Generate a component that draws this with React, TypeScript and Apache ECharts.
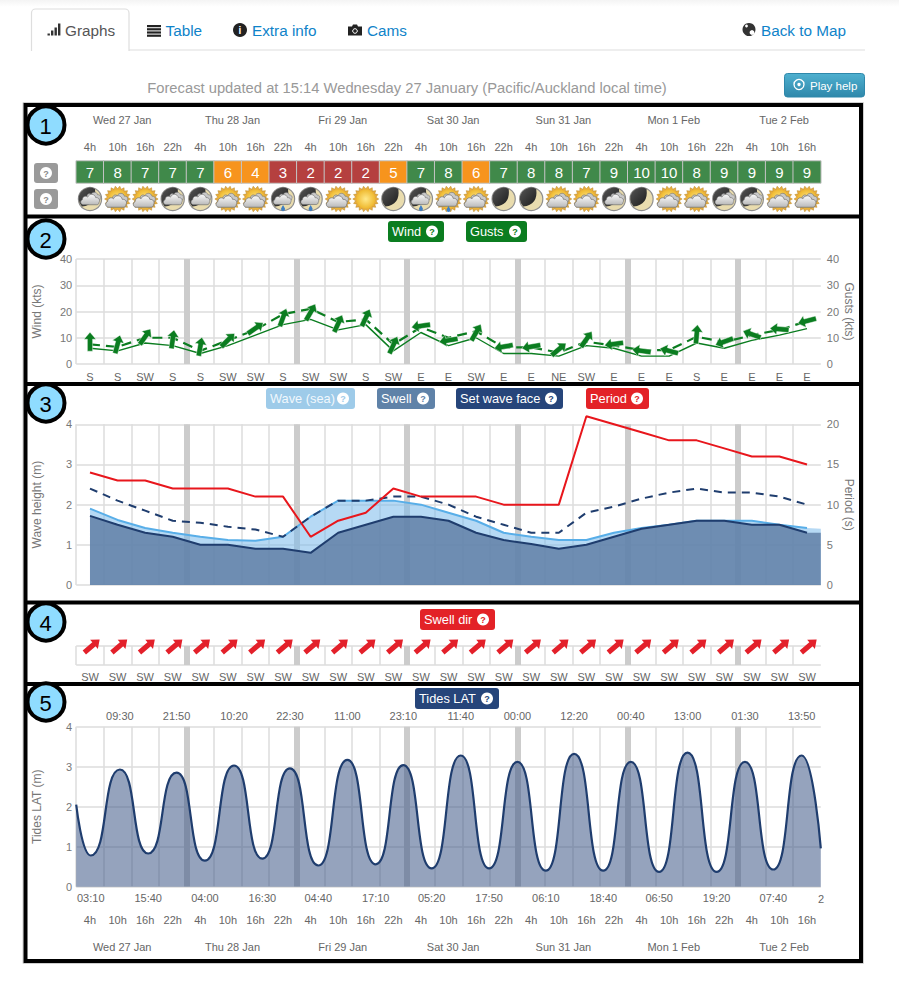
import React, { useEffect, useRef } from "react";
import * as echarts from "echarts";

const FONT = "'Liberation Sans', Arial, sans-serif";

const hourLabels = ["4h","10h","16h","22h","4h","10h","16h","22h","4h","10h","16h","22h","4h","10h","16h","22h","4h","10h","16h","22h","4h","10h","16h","22h","4h","10h","16h"];
const dayLabels = ["Wed 27 Jan","Thu 28 Jan","Fri 29 Jan","Sat 30 Jan","Sun 31 Jan","Mon 1 Feb","Tue 2 Feb"];
const dayLabelHours = [10,34,58,82,106,130,154];
const scores = [7,8,7,7,7,6,4,3,2,2,2,5,7,8,6,7,8,8,7,9,10,10,8,9,9,9,9];
const icons = ["mc","sc","sc","mc","mc","sc","sc","mr","mr","sc","sun","moon","mr","sr","sc","moon","moon","sc","sc","mc","moon","sc","sc","mc","mc","sc","sc"];
const windDirs = ["S","S","SW","S","S","SW","SW","S","SW","SW","S","SW","E","E","SW","E","E","NE","SW","E","E","E","S","E","E","E","E"];
const wind = [6,5,8,7,4,7,11,15,17,13,15,5,12,7,10,4,4,3,7,6,3,3,8,6,9,11,13.5];
const gusts = [7.5,6.5,10,10,5,9,13,19,21,16,17,7.5,14,10,12.5,6.3,6.3,4.4,8.5,7,5.3,5.3,10.4,8.3,11,13,16.3];
const arrowLevels = [8.5,7.5,10.4,9.4,6.6,9.1,13.6,17.7,19.7,15.4,17.6,7.2,14.5,9,12,6.6,6.6,5.6,9.4,7.6,5,5,11.3,8.5,11.3,13.3,16.4];
const windRot = [0,-15,-35,-8,-10,-45,-55,-20,-30,-25,-25,-25,98,100,-30,100,100,-50,-35,98,82,75,-5,110,70,85,105];
const waveSea = [1.9,1.62,1.42,1.3,1.2,1.12,1.1,1.2,1.7,2.1,2.1,2.1,2.0,1.8,1.6,1.3,1.2,1.12,1.12,1.3,1.42,1.5,1.6,1.6,1.6,1.5,1.42];
const waveSeaTail = 1.4;
const swell = [1.72,1.5,1.3,1.2,1.0,1.0,0.9,0.9,0.8,1.3,1.5,1.7,1.7,1.6,1.3,1.12,1.02,0.9,1.0,1.2,1.4,1.5,1.6,1.6,1.5,1.5,1.3];
const swellTail = 1.3;
const setWaveFace = [2.4,2.1,1.85,1.6,1.55,1.45,1.38,1.2,1.7,2.1,2.1,2.2,2.2,2.0,1.7,1.5,1.3,1.3,1.8,1.95,2.15,2.3,2.4,2.3,2.3,2.2,2.0];
const period = [14,13,13,12,12,12,11,11,6,8,9,12,11,11,11,10,10,10,21,20,19,18,18,17,16,16,15];
const swellDirs = ["SW","SW","SW","SW","SW","SW","SW","SW","SW","SW","SW","SW","SW","SW","SW","SW","SW","SW","SW","SW","SW","SW","SW","SW","SW","SW","SW"];
const swellRot = [-50,-50,-50,-50,-50,-50,-50,-50,-50,-50,-50,-50,-50,-50,-50,-50,-50,-50,-50,-50,-50,-50,-50,-50,-50,-50,-50];
const highTimes = ["09:30","21:50","10:20","22:30","11:00","23:10","11:40","00:00","12:20","00:40","13:00","01:30","13:50"];
const highDays = [0,0,1,1,2,2,3,4,4,5,5,6,6];
const highLevels = [2.93,2.85,3.03,2.96,3.17,3.04,3.28,3.12,3.32,3.12,3.35,3.12,3.28];
const lowTimes = ["03:10","15:40","04:00","16:30","04:40","17:10","05:20","17:50","06:10","18:40","06:50","19:20","07:40"];
const lowDays = [0,0,1,1,2,2,3,3,4,4,5,5,6];
const lowLevels = [0.78,0.83,0.65,0.7,0.53,0.56,0.46,0.46,0.4,0.4,0.37,0.37,0.43];
const tideStart = 2.05;
const tideEnd = 0.96;

const LEFT = 76.2;
const WIDTH = 744.6;
const HOURS = 162;
const GREEN = "#0b7d20";
const GRAY = "#dcdcdc";
const TXT = "#666";
const BLUE = "#0f83c9";

const clock = (t: string, d: number) => {
  const [h, m] = t.split(":").map(Number);
  return d * 24 + h + m / 60;
};
const highHours = highTimes.map((t, i) => clock(t, highDays[i]));
const lowHours = lowTimes.map((t, i) => clock(t, lowDays[i]));
const labelAt = (hours: number[], labels: string[]) => (v: number) => {
  const i = hours.findIndex((h) => Math.abs(h - v) < 0.01);
  return i >= 0 ? labels[i] : "";
};

const ARROW = "path://M0,-10 L6,-2.6 L2.6,-2.6 L2.6,10 L-2.6,10 L-2.6,-2.6 L-6,-2.6 Z";

echarts.graphic.registerShape("wxCloud", echarts.graphic.extendPath("M-8,5 C-11,5 -12,1 -9,-0.5 C-9,-4 -5,-5 -3.5,-3 C-2,-7 4,-7 5,-2.5 C8,-3 10,0 8.5,2.5 C8.5,4 7.5,5 6,5 Z", {}));
echarts.graphic.registerShape("wxMoonDark", echarts.graphic.extendPath("M5,-10 A11,11 0 0 0 -8,7.5 Q7,6 5,-10 Z", {}));
echarts.graphic.registerShape("wxDrop", echarts.graphic.extendPath("M0,-3 C1,-1 2,0 2,1 A2,2 0 0 1 -2,1 C-2,0 -1,-1 0,-3 Z", {}));
echarts.graphic.registerShape("navCam", echarts.graphic.extendPath("M0,2 L4,2 L5,0 L9,0 L10,2 L14,2 L14,11 L0,11 Z", {}));

const cloudFill = () => new echarts.graphic.LinearGradient(0, 0, 0, 1, [
  { offset: 0, color: "#fafafa" }, { offset: 1, color: "#b9b9b9" },
]);

function sunParts() {
  const pts: number[][] = [];
  for (let i = 0; i < 36; i++) {
    const r = i % 2 ? 10.3 : 13;
    const a = (i / 36) * Math.PI * 2;
    pts.push([Math.cos(a) * r, Math.sin(a) * r]);
  }
  return [
    { type: "polygon", shape: { points: pts }, style: { fill: "#e7ad3e", stroke: "#b88627", lineWidth: 0.5 } },
    { type: "circle", shape: { cx: 0, cy: 0, r: 9.5 }, style: {
      fill: new echarts.graphic.RadialGradient(0.5, 0.5, 0.5, [{ offset: 0, color: "#ffe98a" }, { offset: 1, color: "#efb92f" }]),
    } },
  ];
}
function moonParts() {
  return [
    { type: "circle", shape: { cx: 0, cy: 0, r: 11.6 }, style: { fill: "#e9dcae", stroke: "#8e8e8e", lineWidth: 1.2 } },
    { type: "wxMoonDark", style: { fill: new echarts.graphic.LinearGradient(0, 0, 1, 1, [{ offset: 0, color: "#555" }, { offset: 1, color: "#1d1d1d" }]) } },
  ];
}
function cloudParts(dx: number, dy: number, s: number) {
  return [
    { type: "wxCloud", x: dx + 3 * s, y: dy - 3.5 * s, scaleX: s * 0.8, scaleY: s * 0.8, style: { fill: "#c9c9c9", stroke: "#6e6e6e", lineWidth: 0.7 } },
    { type: "wxCloud", x: dx, y: dy, scaleX: s, scaleY: s, style: { fill: cloudFill(), stroke: "#6e6e6e", lineWidth: 0.7 } },
  ];
}
function dropParts(dx: number, dy: number) {
  return [{ type: "wxDrop", x: dx, y: dy, style: { fill: "#3f7fc4" } }];
}
function iconChildren(kind: string): any[] {
  if (kind === "sun") return sunParts();
  if (kind === "moon") return moonParts();
  if (kind === "sc") return [...sunParts(), ...cloudParts(-0.5, 3, 1.05)];
  if (kind === "sr") return [...sunParts(), ...cloudParts(-0.5, 2, 1.05), ...dropParts(0, 10)];
  if (kind === "mc") return [...moonParts(), ...cloudParts(1, 1, 0.95)];
  return [...moonParts(), ...cloudParts(0, 1, 0.9), ...dropParts(0, 9)];
}

function badge(x0: number, x1: number, y0: number, y1: number, label: string, fill: string, textFill = "#fff"): any[] {
  const cy = (y0 + y1) / 2;
  return [
    { type: "rect", z: 20, shape: { x: x0, y: y0, width: x1 - x0, height: y1 - y0, r: 3 }, style: { fill } },
    { type: "text", z: 21, x: x0 + 4, y: cy, style: { text: label, fill: textFill, font: `12.8px ${FONT}`, verticalAlign: "middle" } },
    { type: "circle", z: 21, shape: { cx: x1 - 12, cy, r: 6 }, style: { fill: "#fff" } },
    { type: "text", z: 22, x: x1 - 12, y: cy + 0.5, style: { text: "?", fill, font: `bold 9px ${FONT}`, align: "center", verticalAlign: "middle" } },
  ];
}
function helpButton(y0: number): any[] {
  const cy = y0 + 10;
  return [
    { type: "rect", z: 20, shape: { x: 34, y: y0, width: 24, height: 20, r: 3 }, style: { fill: "#9a9a9a" } },
    { type: "circle", z: 21, shape: { cx: 46, cy, r: 6 }, style: { fill: "#fff" } },
    { type: "text", z: 22, x: 46, y: cy + 0.5, style: { text: "?", fill: "#8a8a8a", font: `bold 9px ${FONT}`, align: "center", verticalAlign: "middle" } },
  ];
}
function numberBadge(cy: number, n: string): any[] {
  return [
    { type: "circle", z: 30, shape: { cx: 46, cy, r: 18.5 }, style: { fill: "#8fdcff", stroke: "#000", lineWidth: 4 } },
    { type: "text", z: 31, x: 45.5, y: cy + 1, style: { text: n, fill: "#000", font: `22px ${FONT}`, align: "center", verticalAlign: "middle" } },
  ];
}
function navText(x: number, text: string, fill = BLUE): any {
  return { type: "text", z: 5, x, y: 30.5, style: { text, fill, font: `15.3px ${FONT}`, verticalAlign: "middle" } };
}
const numberBadgeList: (number | string)[][] = [[125, "1"], [239, "2"], [403, "3"], [622, "4"], [702, "5"]];

function pageGraphics(): any[] {
  const out: any[] = [];
  out.push({ type: "rect", z: 1, shape: { x: 0, y: 0, width: 899, height: 7 }, style: {
    fill: new echarts.graphic.LinearGradient(0, 0, 0, 1, [{ offset: 0, color: "#f4f4f4" }, { offset: 1, color: "#ffffff" }]),
  } });
  // tab bar
  out.push({ type: "line", z: 2, shape: { x1: 31, y1: 50, x2: 865, y2: 50 }, style: { stroke: "#dedede", lineWidth: 1.2 } });
  out.push({ type: "rect", z: 3, shape: { x: 31.5, y: 9, width: 97.5, height: 44, r: [4, 4, 0, 0] }, style: { fill: "#fff", stroke: "#dedede", lineWidth: 1.2 } });
  out.push({ type: "rect", z: 4, shape: { x: 30, y: 51, width: 100, height: 4 }, style: { fill: "#fff" } });
  [[47.5, 2], [51, 5], [54.5, 8], [58, 12]].forEach(([x, h]) => {
    out.push({ type: "rect", z: 5, shape: { x, y: 35.5 - h, width: 2.4, height: h }, style: { fill: "#333" } });
  });
  out.push(navText(65, "Graphs", "#555"));
  [0, 1, 2, 3].forEach((i) => {
    out.push({ type: "rect", z: 5, shape: { x: 147, y: 25 + i * 3.2, width: 14, height: 2.2 }, style: { fill: "#222" } });
  });
  out.push(navText(165.5, "Table"));
  out.push({ type: "circle", z: 5, shape: { cx: 240, cy: 30, r: 7 }, style: { fill: "#222" } });
  out.push({ type: "text", z: 6, x: 240, y: 30.5, style: { text: "i", fill: "#fff", font: `bold 10px ${FONT}`, align: "center", verticalAlign: "middle" } });
  out.push(navText(252, "Extra info"));
  out.push({ type: "navCam", z: 5, x: 348, y: 24.5, style: { fill: "#222" } });
  out.push({ type: "circle", z: 6, shape: { cx: 355, cy: 31, r: 2.3 }, style: { fill: "#222", stroke: "#fff", lineWidth: 1 } });
  out.push(navText(367, "Cams"));
  out.push({ type: "circle", z: 5, shape: { cx: 749, cy: 29.5, r: 6.5 }, style: { fill: "#333" } });
  out.push({ type: "circle", z: 6, shape: { cx: 752, cy: 32.5, r: 2.4 }, style: { fill: "#fff" } });
  out.push({ type: "circle", z: 6, shape: { cx: 746.5, cy: 26, r: 1.4 }, style: { fill: "#fff" } });
  out.push(navText(761, "Back to Map"));
  // forecast line
  out.push({ type: "text", z: 5, x: 407, y: 88, style: { text: "Forecast updated at 15:14 Wednesday 27 January (Pacific/Auckland local time)", fill: "#999", font: `14.75px ${FONT}`, align: "center", verticalAlign: "middle" } });
  out.push({ type: "rect", z: 5, shape: { x: 784.5, y: 73.5, width: 80, height: 23.5, r: 3 }, style: {
    fill: new echarts.graphic.LinearGradient(0, 0, 0, 1, [{ offset: 0, color: "#4fb0cf" }, { offset: 1, color: "#2f88ab" }]), stroke: "#2f88ab", lineWidth: 1 } });
  out.push({ type: "circle", z: 6, shape: { cx: 799, cy: 84.5, r: 5 }, style: { fill: "none", stroke: "#fff", lineWidth: 1.3 } });
  out.push({ type: "circle", z: 6, shape: { cx: 799, cy: 84.5, r: 1.7 }, style: { fill: "#fff" } });
  out.push({ type: "text", z: 6, x: 810, y: 85.5, style: { text: "Play help", fill: "#fff", font: `11.5px ${FONT}`, verticalAlign: "middle" } });
  // frames
  out.push({ type: "rect", z: 14, shape: { x: 23, y: 102.5, width: 840.5, height: 861 }, style: { fill: "none", stroke: "#cfcfcf", lineWidth: 1 } });
  out.push({ type: "rect", z: 15, shape: { x: 25.5, y: 105, width: 835.5, height: 856 }, style: { fill: "none", stroke: "#000", lineWidth: 4 } });
  [216.5, 384, 602.5, 684].forEach((y) => {
    out.push({ type: "line", z: 15, shape: { x1: 25, y1: y, x2: 861, y2: y }, style: { stroke: "#000", lineWidth: 4 } });
  });
  numberBadgeList.forEach(([cy, n]) => out.push(...numberBadge(cy as number, n as string)));
  out.push(...helpButton(163), ...helpButton(189));
  out.push(...badge(388, 444, 221, 242, "Wind", GREEN));
  out.push(...badge(466, 527, 221, 242, "Gusts", GREEN));
  out.push(...badge(266, 355, 388, 409, "Wave (sea)", "#9ecbe9", "#f1f8fd"));
  out.push(...badge(377, 435, 388, 409, "Swell", "#5f82a8"));
  out.push(...badge(456, 563, 388, 409, "Set wave face", "#26457a"));
  out.push(...badge(586, 649, 388, 409, "Period", "#e32227"));
  out.push(...badge(420, 495, 609, 630, "Swell dir", "#e32227"));
  out.push(...badge(415, 499, 688, 709, "Tides LAT", "#26457a"));
  // the last low-tide label is cut by the plot's right edge in the source
  out.push({ type: "text", z: 5, x: 818, y: 899, style: { text: "2", fill: TXT, font: `11px ${FONT}`, verticalAlign: "middle" } });
  return out;
}

function buildOption() {
  const grid = [
    { top: 161, height: 22 },
    { top: 188, height: 22 },
    { top: 259, height: 105 },
    { top: 424.3, height: 160.7 },
    { top: 646, height: 19 },
    { top: 726.7, height: 160 },
  ].map((g) => ({ ...g, left: LEFT, width: WIDTH, containLabel: false }));

  const xAxis: any[] = [];
  const yAxis: any[] = [];
  const addX = (a: any) => xAxis.push(a) - 1;
  const addY = (a: any) => yAxis.push(a) - 1;
  const noLine = { axisLine: { show: false }, axisTick: { show: false } };
  const catLabels = (margin: number) => ({ show: true, color: TXT, fontSize: 11, margin, interval: 0 });

  const catAxis = (g: number, data: string[], labels: any, split: boolean, position = "bottom") => addX({
    type: "category", gridIndex: g, data, position, boundaryGap: true, ...noLine,
    axisLabel: labels,
    splitLine: split ? { show: true, showMaxLine: false, interval: 0, lineStyle: { color: GRAY, width: 1.5 } } : { show: false },
  });
  const bandAxis = (g: number) => addX({
    type: "category", gridIndex: g, data: hourLabels, position: "bottom", boundaryGap: true, ...noLine,
    axisLabel: { show: false },
    splitLine: { show: true, showMinLine: false, showMaxLine: false, interval: (i: number) => i % 4 === 0, lineStyle: { color: "#cccccc", width: 6 } },
  });
  const hourAxis = (g: number, position: string, margin: number, values: number[] | null, labels: string[] | null) => addX({
    type: "value", gridIndex: g, position, min: 0, max: HOURS, ...noLine, splitLine: { show: false },
    axisLabel: values && labels
      ? { show: true, customValues: values, formatter: labelAt(values, labels), color: TXT, fontSize: 11, margin, showMinLabel: true, showMaxLabel: true }
      : { show: false },
  });
  const valAxis = (g: number, max: number, interval: number, name: string, position: string, split: boolean) => addY({
    type: "value", gridIndex: g, min: 0, max, interval, position, name,
    nameLocation: "middle", nameMoveOverlap: false, nameGap: position === "left" ? 33 : 22, nameRotate: position === "left" ? 90 : -90,
    nameTextStyle: { color: "#777", fontSize: 12 }, ...noLine,
    axisLabel: { color: "#777", fontSize: 11, margin: position === "left" ? 4 : 6 },
    splitLine: split ? { show: true, lineStyle: { color: GRAY, width: 1.5 } } : { show: false },
  });

  const series: any[] = [];

  // section 1: scores + weather icons
  const x0 = catAxis(0, hourLabels, { ...catLabels(9) }, false, "top");
  hourAxis(0, "top", 36, dayLabelHours, dayLabels);
  const y0 = addY({ type: "category", gridIndex: 0, data: ["score"], ...noLine, axisLabel: { show: false } });
  series.push({
    type: "heatmap", xAxisIndex: x0, yAxisIndex: y0,
    data: scores.map((s, i) => [i, 0, s]),
    itemStyle: { borderColor: "#c4c4c4", borderWidth: 1 },
    label: { show: true, color: "#fff", fontSize: 15, formatter: (p: any) => String(p.value[2]) },
  });
  const x1 = catAxis(1, hourLabels, { show: false }, false);
  const y1 = addY({ type: "category", gridIndex: 1, data: ["icon"], ...noLine, axisLabel: { show: false } });
  series.push({
    type: "custom", xAxisIndex: x1, yAxisIndex: y1, coordinateSystem: "cartesian2d",
    data: icons.map((k, i) => [i, 0, k]),
    renderItem: (params: any, api: any) => {
      const [cx, cy] = api.coord([params.dataIndex, 0]);
      return { type: "group", x: cx, y: cy, children: iconChildren(icons[params.dataIndex]) };
    },
  });

  // section 2: wind and gusts
  const x2 = catAxis(2, windDirs, catLabels(7), true);
  bandAxis(2);
  const y2 = valAxis(2, 40, 10, "Wind (kts)", "left", true);
  const y2r = valAxis(2, 40, 10, "Gusts (kts)", "right", false);
  series.push({
    type: "line", name: "Wind", xAxisIndex: x2, yAxisIndex: y2, data: wind, symbol: "none",
    lineStyle: { color: GREEN, width: 1.4 }, z: 3,
  });
  series.push({
    type: "line", name: "Gusts", xAxisIndex: x2, yAxisIndex: y2r, data: gusts, symbol: "none",
    lineStyle: { color: GREEN, width: 2.2, type: [10, 6] }, z: 3,
  });
  series.push({
    type: "scatter", xAxisIndex: x2, yAxisIndex: y2,
    data: arrowLevels.map((g, i) => ({ value: [i, g], symbolRotate: windRot[i] })),
    symbol: ARROW, symbolSize: [12, 19], itemStyle: { color: GREEN, borderColor: "#fff", borderWidth: 0.4, opacity: 1 }, z: 4,
  });

  // section 3: waves and period
  const x3 = catAxis(3, hourLabels, { show: false }, true);
  bandAxis(3);
  const x3h = hourAxis(3, "bottom", 0, null, null);
  const y3 = valAxis(3, 4, 1, "Wave height (m)", "left", true);
  const y3r = valAxis(3, 20, 5, "Period (s)", "right", false);
  const withTail = (v: number[], tail: number) => [...v.map((d, i) => [3 + 6 * i, d]), [HOURS, tail]];
  series.push({
    type: "line", name: "Wave (sea) area", xAxisIndex: x3h, yAxisIndex: y3, data: withTail(waveSea, waveSeaTail), symbol: "none",
    lineStyle: { width: 0 }, areaStyle: { color: "rgba(122,185,235,0.55)", opacity: 1 }, z: 3,
  });
  series.push({
    type: "line", name: "Wave (sea)", xAxisIndex: x3, yAxisIndex: y3, data: waveSea, symbol: "none",
    lineStyle: { color: "#58aee8", width: 2 }, z: 3,
  });
  series.push({
    type: "line", name: "Swell area", xAxisIndex: x3h, yAxisIndex: y3, data: withTail(swell, swellTail), symbol: "none",
    lineStyle: { width: 0 }, areaStyle: { color: "rgba(94,125,163,0.82)", opacity: 1 }, z: 4,
  });
  series.push({
    type: "line", name: "Swell", xAxisIndex: x3, yAxisIndex: y3, data: swell, symbol: "none",
    lineStyle: { color: "#1f3d6e", width: 2 }, z: 4,
  });
  series.push({
    type: "line", name: "Set wave face", xAxisIndex: x3, yAxisIndex: y3, data: setWaveFace, symbol: "none",
    lineStyle: { color: "#1f3d6e", width: 2, type: [8, 6] }, z: 5,
  });
  series.push({
    type: "line", name: "Period", xAxisIndex: x3, yAxisIndex: y3r, data: period, symbol: "none", clip: false,
    lineStyle: { color: "#e8161c", width: 2 }, z: 6,
  });

  // section 4: swell direction
  const x4 = catAxis(4, swellDirs, catLabels(6), true);
  bandAxis(4);
  const y4 = addY({ type: "value", gridIndex: 4, min: 0, max: 1, interval: 1, ...noLine, axisLabel: { show: false }, splitLine: { show: true, lineStyle: { color: GRAY, width: 1.5 } } });
  series.push({
    type: "scatter", name: "Swell dir", xAxisIndex: x4, yAxisIndex: y4, clip: false,
    data: swellRot.map((r, i) => ({ value: [i, 1], symbolRotate: r })),
    symbol: ARROW, symbolSize: [12, 20], symbolOffset: [2, 0], itemStyle: { color: "#e3202a", opacity: 1 }, z: 4,
  });

  // section 5: tides
  const xt = hourAxis(5, "bottom", 6, lowHours, lowTimes);
  catAxis(5, hourLabels, catLabels(28), true);
  bandAxis(5);
  hourAxis(5, "top", 5, highHours, highTimes);
  hourAxis(5, "bottom", 55, dayLabelHours, dayLabels);
  const yt = valAxis(5, 4, 1, "Tides LAT (m)", "left", true);
  const tidePts: number[][] = [[0, tideStart]];
  highHours.forEach((h, i) => { tidePts.push([h, highLevels[i]]); tidePts.push([lowHours[i], lowLevels[i]]); });
  tidePts.sort((a, b) => a[0] - b[0]);
  tidePts.push([HOURS, tideEnd]);
  series.push({
    type: "line", name: "Tides LAT", xAxisIndex: xt, yAxisIndex: yt, data: tidePts, symbol: "none",
    smooth: 0.6, smoothMonotone: "x",
    lineStyle: { color: "#1f3d6e", width: 2.2 }, areaStyle: { color: "rgba(62,88,135,0.55)", opacity: 1 }, z: 3,
  });

  return {
    animation: false,
    backgroundColor: "#fff",
    textStyle: { fontFamily: FONT },
    visualMap: {
      show: false, type: "piecewise", seriesIndex: 0, dimension: 2,
      pieces: [
        { max: 3.5, color: "#b5403f" },
        { min: 3.5, max: 6.5, color: "#f7941d" },
        { min: 6.5, color: "#40894a" },
      ],
    },
    grid, xAxis, yAxis, series,
    graphic: { elements: pageGraphics() },
  };
}

export default function App() {
  const ref = useRef<HTMLDivElement>(null);
  useEffect(() => {
    const chart = echarts.init(ref.current as HTMLDivElement, undefined, { renderer: "svg" });
    chart.setOption(buildOption() as any);
    return () => chart.dispose();
  }, []);
  return <div ref={ref} style={{ position: "absolute", left: 0, top: 0, width: 899, height: 1000 }} />;
}
